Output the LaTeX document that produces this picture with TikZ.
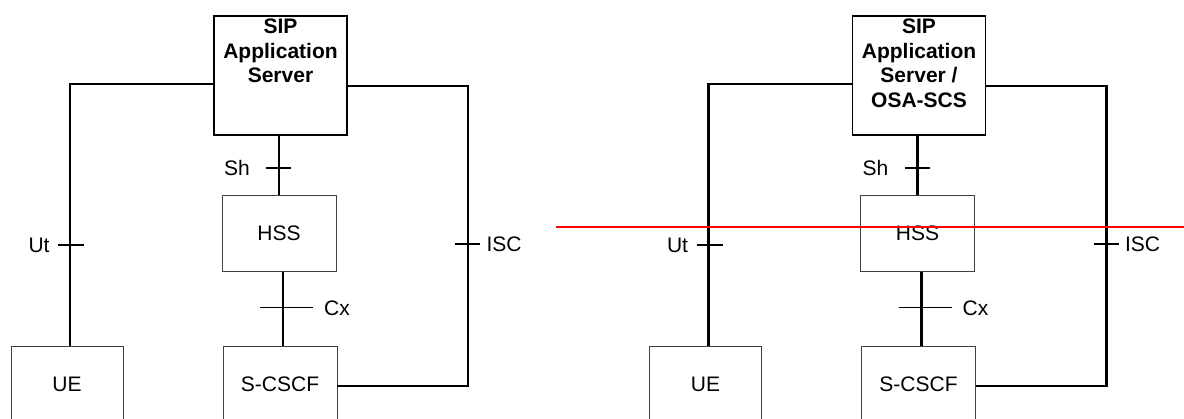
\documentclass[tikz,border=0pt]{standalone}
\usepackage{fontspec}
\setmainfont{Liberation Sans}
\begin{document}
\begin{tikzpicture}[x=1pt,y=-1pt,
  thinbox/.style={draw=black!75,line width=0.9pt,minimum width=114pt,minimum height=76pt,inner sep=0pt,font=\fontsize{21}{25}\selectfont},
  asbox/.style={draw,line width=1.7pt,minimum width=133pt,minimum height=119pt,inner sep=0pt},
  astext/.style={align=center,anchor=north,font=\bfseries\fontsize{21}{24.7}\selectfont,inner sep=0pt},
  link/.style={line width=2.4pt},
  tick/.style={line width=1.6pt},
  thintick/.style={line width=1pt},
  lbl/.style={font=\fontsize{21}{25}\selectfont,inner sep=0pt}]
\clip (0,0) rectangle (1184,419);
\useasboundingbox (0,0) rectangle (1184,419);
% ---------- left panel ----------
\node[asbox] (as1) at (280.5,75.5) {};
\node[astext] (as1t) at (280.5,18.5) {SIP\\Application\\Server};
\node[thinbox] (hss1) at (279,233.5) {HSS};
\node[thinbox,minimum width=112pt] (ue1) at (67,384) {UE};
\node[thinbox] (scscf1) at (280,384) {S-CSCF};
\coordinate (ut1a) at (70,84);
\coordinate (isc1a) at (468,86);
\coordinate (isc1b) at (468,386);
\draw[link] (as1.west |- ut1a) -- (ut1a) -- (ut1a |- ue1.north);
\draw[link] (as1.south -| hss1.north) -- (hss1.north);
\draw[link] ([xshift=4pt]hss1.south) -- ([xshift=3pt]scscf1.north);
\draw[link] (as1.east |- isc1a) -- (isc1a) -- (isc1b) -- (scscf1.east |- isc1b);
\draw[tick] (58,245) -- (84,245);
\draw[tick] (266,168) -- (291,168);
\draw[thintick] (260,308) -- (313,308);
\draw[tick] (455,244) -- (480,244);
\node[lbl] (ut1) at (39,245) {Ut};
\node[lbl] (sh1) at (237,168) {Sh};
\node[lbl] (cx1) at (337,308) {Cx};
\node[lbl] (isc1) at (504,244) {ISC};
% ---------- right panel ----------
\begin{scope}[xshift=638.5pt]
\node[asbox] (as2) at (280.5,75.5) {};
\node[astext] (as2t) at (280.5,18.5) {SIP\\Application\\Server /\\OSA-SCS};
\node[thinbox] (hss2) at (279,233.5) {HSS};
\node[thinbox,minimum width=112pt] (ue2) at (67,384) {UE};
\node[thinbox] (scscf2) at (280,384) {S-CSCF};
\coordinate (ut2a) at (70,84);
\coordinate (isc2a) at (468,86);
\coordinate (isc2b) at (468,386);
\draw[link] (as2.west |- ut2a) -- (ut2a) -- (ut2a |- ue2.north);
\draw[link] (as2.south -| hss2.north) -- (hss2.north);
\draw[link] ([xshift=4pt]hss2.south) -- ([xshift=3pt]scscf2.north);
\draw[link] (as2.east |- isc2a) -- (isc2a) -- (isc2b) -- (scscf2.east |- isc2b);
\draw[tick] (58,245) -- (84,245);
\draw[tick] (266,168) -- (291,168);
\draw[thintick] (260,308) -- (313,308);
\draw[tick] (455,244) -- (480,244);
\node[lbl] (ut2) at (39,245) {Ut};
\node[lbl] (sh2) at (237,168) {Sh};
\node[lbl] (cx2) at (337,308) {Cx};
\node[lbl] (isc2) at (504,244) {ISC};
\end{scope}
% red line
\coordinate (r1) at (556,227);
\coordinate (r2) at (1184,227);
\draw[red,line width=1.8pt] (r1) -- (r2);
\end{tikzpicture}
\end{document}
